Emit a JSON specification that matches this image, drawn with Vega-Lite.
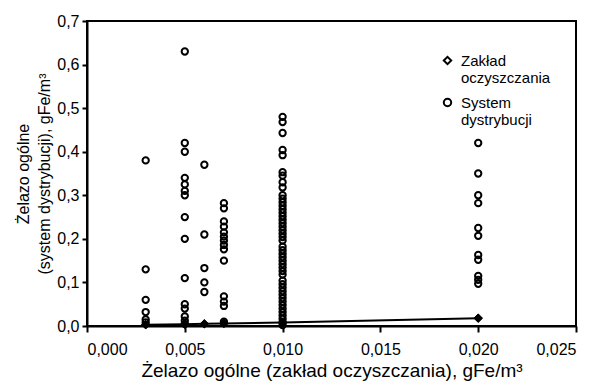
{
  "$schema": "https://vega.github.io/schema/vega-lite/v6.json",
  "width": 489,
  "height": 305,
  "autosize": {"type": "none"},
  "padding": {"left": 87, "top": 21, "right": 17, "bottom": 57},
  "background": "white",
  "config": {
    "font": "Liberation Sans",
    "view": {"stroke": "black", "strokeWidth": 2},
    "axis": {"grid": false, "domainColor": "black", "domainWidth": 2, "tickColor": "black", "tickWidth": 2, "labelColor": "black", "titleColor": "black", "labelFontSize": 16, "titleFontSize": 16, "titleFontWeight": "normal", "labelFont": "Liberation Sans", "titleFont": "Liberation Sans"},
    "legend": {
      "orient": "none", "legendX": 353, "legendY": 32,
      "labelFontSize": 15, "labelColor": "black", "labelFont": "Liberation Sans",
      "symbolSize": 55, "rowPadding": 8, "labelOffset": 6,
      "symbolStrokeColor": "black", "symbolStrokeWidth": 2
    }
  },
  "data": {
    "values": [
      {"x": 0.003, "y": 0.003, "s": "Zakład oczyszczania"},
      {"x": 0.005, "y": 0.004, "s": "Zakład oczyszczania"},
      {"x": 0.006, "y": 0.005, "s": "Zakład oczyszczania"},
      {"x": 0.007, "y": 0.006, "s": "Zakład oczyszczania"},
      {"x": 0.010, "y": 0.008, "s": "Zakład oczyszczania"},
      {"x": 0.020, "y": 0.018, "s": "Zakład oczyszczania"},

      {"x": 0.003, "y": 0.38, "s": "System dystrybucji"},
      {"x": 0.003, "y": 0.13, "s": "System dystrybucji"},
      {"x": 0.003, "y": 0.06, "s": "System dystrybucji"},
      {"x": 0.003, "y": 0.032, "s": "System dystrybucji"},
      {"x": 0.003, "y": 0.015, "s": "System dystrybucji"},
      {"x": 0.003, "y": 0.008, "s": "System dystrybucji"},

      {"x": 0.005, "y": 0.63, "s": "System dystrybucji"},
      {"x": 0.005, "y": 0.42, "s": "System dystrybucji"},
      {"x": 0.005, "y": 0.40, "s": "System dystrybucji"},
      {"x": 0.005, "y": 0.34, "s": "System dystrybucji"},
      {"x": 0.005, "y": 0.325, "s": "System dystrybucji"},
      {"x": 0.005, "y": 0.31, "s": "System dystrybucji"},
      {"x": 0.005, "y": 0.30, "s": "System dystrybucji"},
      {"x": 0.005, "y": 0.25, "s": "System dystrybucji"},
      {"x": 0.005, "y": 0.20, "s": "System dystrybucji"},
      {"x": 0.005, "y": 0.11, "s": "System dystrybucji"},
      {"x": 0.005, "y": 0.05, "s": "System dystrybucji"},
      {"x": 0.005, "y": 0.04, "s": "System dystrybucji"},
      {"x": 0.005, "y": 0.022, "s": "System dystrybucji"},
      {"x": 0.005, "y": 0.012, "s": "System dystrybucji"},
      {"x": 0.005, "y": 0.005, "s": "System dystrybucji"},

      {"x": 0.006, "y": 0.37, "s": "System dystrybucji"},
      {"x": 0.006, "y": 0.21, "s": "System dystrybucji"},
      {"x": 0.006, "y": 0.133, "s": "System dystrybucji"},
      {"x": 0.006, "y": 0.10, "s": "System dystrybucji"},
      {"x": 0.006, "y": 0.078, "s": "System dystrybucji"},

      {"x": 0.007, "y": 0.282, "s": "System dystrybucji"},
      {"x": 0.007, "y": 0.27, "s": "System dystrybucji"},
      {"x": 0.007, "y": 0.24, "s": "System dystrybucji"},
      {"x": 0.007, "y": 0.228, "s": "System dystrybucji"},
      {"x": 0.007, "y": 0.215, "s": "System dystrybucji"},
      {"x": 0.007, "y": 0.205, "s": "System dystrybucji"},
      {"x": 0.007, "y": 0.196, "s": "System dystrybucji"},
      {"x": 0.007, "y": 0.186, "s": "System dystrybucji"},
      {"x": 0.007, "y": 0.176, "s": "System dystrybucji"},
      {"x": 0.007, "y": 0.15, "s": "System dystrybucji"},
      {"x": 0.007, "y": 0.068, "s": "System dystrybucji"},
      {"x": 0.007, "y": 0.056, "s": "System dystrybucji"},
      {"x": 0.007, "y": 0.046, "s": "System dystrybucji"},
      {"x": 0.007, "y": 0.01, "s": "System dystrybucji"},

      {"x": 0.010, "y": 0.48, "s": "System dystrybucji"},
      {"x": 0.010, "y": 0.468, "s": "System dystrybucji"},
      {"x": 0.010, "y": 0.443, "s": "System dystrybucji"},
      {"x": 0.010, "y": 0.404, "s": "System dystrybucji"},
      {"x": 0.010, "y": 0.392, "s": "System dystrybucji"},
      {"x": 0.010, "y": 0.353, "s": "System dystrybucji"},
      {"x": 0.010, "y": 0.345, "s": "System dystrybucji"},
      {"x": 0.010, "y": 0.33, "s": "System dystrybucji"},
      {"x": 0.010, "y": 0.318, "s": "System dystrybucji"},
      {"x": 0.010, "y": 0.30, "s": "System dystrybucji"},
      {"x": 0.010, "y": 0.292, "s": "System dystrybucji"},
      {"x": 0.010, "y": 0.284, "s": "System dystrybucji"},
      {"x": 0.010, "y": 0.276, "s": "System dystrybucji"},
      {"x": 0.010, "y": 0.268, "s": "System dystrybucji"},
      {"x": 0.010, "y": 0.26, "s": "System dystrybucji"},
      {"x": 0.010, "y": 0.252, "s": "System dystrybucji"},
      {"x": 0.010, "y": 0.244, "s": "System dystrybucji"},
      {"x": 0.010, "y": 0.236, "s": "System dystrybucji"},
      {"x": 0.010, "y": 0.228, "s": "System dystrybucji"},
      {"x": 0.010, "y": 0.22, "s": "System dystrybucji"},
      {"x": 0.010, "y": 0.212, "s": "System dystrybucji"},
      {"x": 0.010, "y": 0.204, "s": "System dystrybucji"},
      {"x": 0.010, "y": 0.196, "s": "System dystrybucji"},
      {"x": 0.010, "y": 0.182, "s": "System dystrybucji"},
      {"x": 0.010, "y": 0.174, "s": "System dystrybucji"},
      {"x": 0.010, "y": 0.166, "s": "System dystrybucji"},
      {"x": 0.010, "y": 0.158, "s": "System dystrybucji"},
      {"x": 0.010, "y": 0.15, "s": "System dystrybucji"},
      {"x": 0.010, "y": 0.142, "s": "System dystrybucji"},
      {"x": 0.010, "y": 0.134, "s": "System dystrybucji"},
      {"x": 0.010, "y": 0.126, "s": "System dystrybucji"},
      {"x": 0.010, "y": 0.118, "s": "System dystrybucji"},
      {"x": 0.010, "y": 0.104, "s": "System dystrybucji"},
      {"x": 0.010, "y": 0.096, "s": "System dystrybucji"},
      {"x": 0.010, "y": 0.088, "s": "System dystrybucji"},
      {"x": 0.010, "y": 0.08, "s": "System dystrybucji"},
      {"x": 0.010, "y": 0.072, "s": "System dystrybucji"},
      {"x": 0.010, "y": 0.064, "s": "System dystrybucji"},
      {"x": 0.010, "y": 0.056, "s": "System dystrybucji"},
      {"x": 0.010, "y": 0.048, "s": "System dystrybucji"},
      {"x": 0.010, "y": 0.04, "s": "System dystrybucji"},
      {"x": 0.010, "y": 0.032, "s": "System dystrybucji"},
      {"x": 0.010, "y": 0.024, "s": "System dystrybucji"},
      {"x": 0.010, "y": 0.016, "s": "System dystrybucji"},
      {"x": 0.010, "y": 0.008, "s": "System dystrybucji"},
      {"x": 0.010, "y": 0.002, "s": "System dystrybucji"},

      {"x": 0.020, "y": 0.42, "s": "System dystrybucji"},
      {"x": 0.020, "y": 0.35, "s": "System dystrybucji"},
      {"x": 0.020, "y": 0.30, "s": "System dystrybucji"},
      {"x": 0.020, "y": 0.282, "s": "System dystrybucji"},
      {"x": 0.020, "y": 0.225, "s": "System dystrybucji"},
      {"x": 0.020, "y": 0.207, "s": "System dystrybucji"},
      {"x": 0.020, "y": 0.163, "s": "System dystrybucji"},
      {"x": 0.020, "y": 0.152, "s": "System dystrybucji"},
      {"x": 0.020, "y": 0.115, "s": "System dystrybucji"},
      {"x": 0.020, "y": 0.106, "s": "System dystrybucji"},
      {"x": 0.020, "y": 0.097, "s": "System dystrybucji"}
    ]
  },
  "encoding": {
    "x": {
      "field": "x", "type": "quantitative",
      "scale": {"domain": [0, 0.025], "nice": false, "zero": true},
      "axis": {
        "title": "Żelazo ogólne (zakład oczyszczania), gFe/m³",
        "titleFontSize": 19,
        "values": [0, 0.005, 0.01, 0.015, 0.02, 0.025],
        "labelExpr": "replace(format(datum.value, '.3f'), '.', ',')",
        "tickSize": 6, "labelPadding": 9, "titlePadding": 4
      }
    },
    "y": {
      "field": "y", "type": "quantitative",
      "scale": {"domain": [0, 0.7], "nice": false},
      "axis": {
        "title": ["Żelazo ogólne", "(system dystrybucji), gFe/m³"],
        "values": [0, 0.1, 0.2, 0.3, 0.4, 0.5, 0.6, 0.7],
        "labelExpr": "replace(format(datum.value, '.1f'), '.', ',')",
        "tickSize": 5, "labelPadding": 3, "titlePadding": 4, "titleLineHeight": 21
      }
    }
  },
  "layer": [
    {
      "transform": [{"filter": "datum.s == 'Zakład oczyszczania'"}],
      "mark": {"type": "line", "color": "black", "strokeWidth": 2},
      "encoding": {}
    },
    {
      "mark": {"type": "point", "filled": false, "color": "black", "stroke": "black", "strokeWidth": 2, "opacity": 1, "size": 40},
      "encoding": {
        "shape": {
          "field": "s", "type": "nominal",
          "scale": {"domain": ["Zakład oczyszczania", "System dystrybucji"], "range": ["diamond", "circle"]},
          "legend": {
            "title": null, "labelExpr": "split(datum.label, ' ')",
            "encode": {
              "symbols": {
                "fill": {"signal": "datum.value === 'Zakład oczyszczania' ? 'black' : 'transparent'"},
                "stroke": {"value": "black"},
                "strokeWidth": {"value": 2}
              },
              "labels": {"dy": {"value": -8}, "lineHeight": {"value": 16}}
            }
          }
        }
      }
    },
    {
      "transform": [{"filter": "datum.s == 'Zakład oczyszczania'"}],
      "mark": {"type": "point", "shape": "diamond", "filled": true, "color": "black", "stroke": "black", "strokeWidth": 1, "opacity": 1, "size": 70},
      "encoding": {}
    }
  ]
}
